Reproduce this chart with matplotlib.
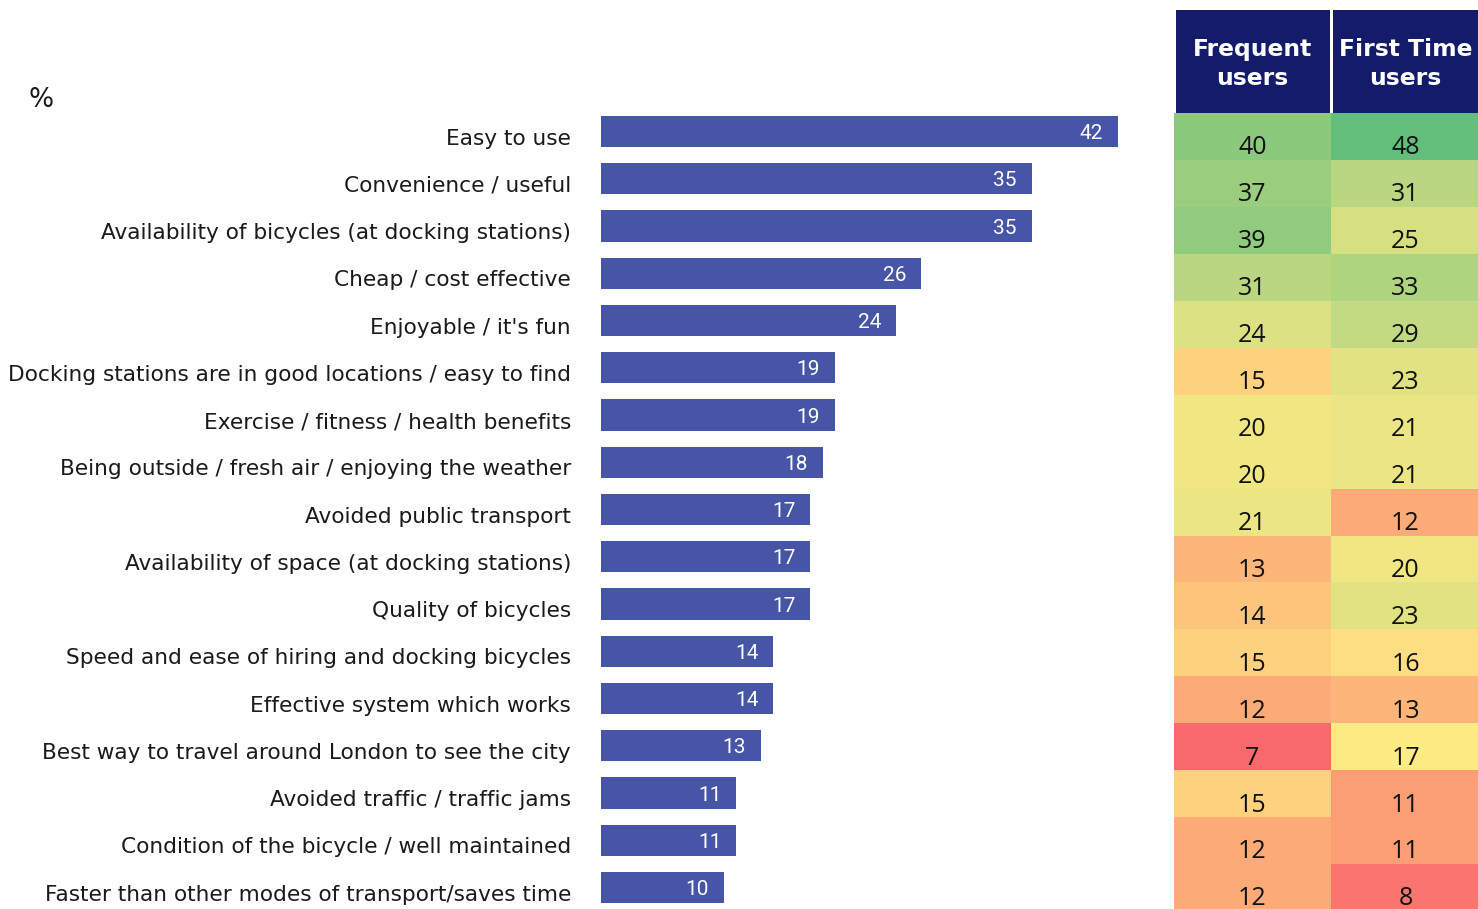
import matplotlib
matplotlib.use("Agg")
import matplotlib.pyplot as plt
import numpy as np
from matplotlib.colors import LinearSegmentedColormap, TwoSlopeNorm
from matplotlib.patches import Rectangle
import matplotlib.transforms as mtransforms

# Reasons for using the scheme, % of all users
reasons = [
    "Easy to use",
    "Convenience / useful",
    "Availability of bicycles (at docking stations)",
    "Cheap / cost effective",
    "Enjoyable / it's fun",
    "Docking stations are in good locations / easy to find",
    "Exercise / fitness / health benefits",
    "Being outside / fresh air / enjoying the weather",
    "Avoided public transport",
    "Availability of space (at docking stations)",
    "Quality of bicycles",
    "Speed and ease of hiring and docking bicycles",
    "Effective system which works",
    "Best way to travel around London to see the city",
    "Avoided traffic / traffic jams",
    "Condition of the bicycle / well maintained",
    "Faster than other modes of transport/saves time",
]
all_users = [42, 35, 35, 26, 24, 19, 19, 18, 17, 17, 17, 14, 14, 13, 11, 11, 10]

# Table columns
table_headers = ["Frequent\nusers", "First Time\nusers"]
frequent = [40, 37, 39, 31, 24, 15, 20, 20, 21, 13, 14, 15, 12, 7, 15, 12, 12]
first_time = [48, 31, 25, 33, 29, 23, 21, 21, 12, 20, 23, 16, 13, 17, 11, 11, 8]

W, H = 1478, 909
BAR_COLOR = "#4655A5"
HEADER_COLOR = "#141B6B"

fig = plt.figure(figsize=(W / 100, H / 100), dpi=100)


def px_axes(x0, y0, x1, y1):
    """Axes from pixel box (top-left origin)."""
    return fig.add_axes([x0 / W, 1 - y1 / H, (x1 - x0) / W, (y1 - y0) / H])


# --- bar chart ---
n = len(reasons)
pitch = 47.25
top_c, bot_c = 131.5, 131.5 + pitch * (n - 1)
ax = px_axes(601, top_c - pitch / 2, 601 + 45 * 12.31, bot_c + pitch / 2)
y = np.arange(n)
ax.barh(y, all_users, height=0.66, color=BAR_COLOR)
ax.set_xlim(0, 45)
ax.set_ylim(n - 0.5, -0.5)
ax.axis("off")

lab_trans = mtransforms.offset_copy(ax.get_yaxis_transform(), fig=fig, x=-30, y=-7, units="dots")
for i, r in enumerate(reasons):
    ax.text(0, i, r, transform=lab_trans, ha="right", va="center",
            fontsize=15.6, color="#1a1a1a", family="DejaVu Sans")

val_trans = mtransforms.offset_copy(ax.transData, fig=fig, x=-15, y=-2, units="dots")
for i, v in enumerate(all_users):
    ax.text(v, i, str(v), transform=val_trans, ha="right", va="center",
            fontsize=15, color="white", family=["Roboto", "DejaVu Sans"])

fig.text(28 / W, 1 - 100 / H, "%", ha="left", va="center", fontsize=19, color="#1a1a1a")

# --- heat map table ---
cmap = LinearSegmentedColormap.from_list("ryg", ["#F8696B", "#FFEB84", "#63BE7B"])
values = np.array([frequent, first_time]).T
norm = TwoSlopeNorm(vmin=values.min(), vcenter=17, vmax=values.max())

tx0, tx1, tx2 = 1174, 1331, 1480
row_h = 46.95
hx = px_axes(tx0, 113, tx2, 113 + row_h * n)
col_edges = np.array([0, tx1 - tx0, tx2 - tx0])
hx.pcolormesh(col_edges, np.arange(n + 1), values, cmap=cmap, norm=norm)
hx.set_xlim(0, tx2 - tx0)
hx.set_ylim(n, 0)
hx.axis("off")
col_mid = (col_edges[:-1] + col_edges[1:]) / 2
for i in range(n):
    for j in range(2):
        hx.text(col_mid[j], i + 0.74, str(values[i, j]), ha="center", va="center",
                fontsize=18, color="#111111", family=["Open Sans", "DejaVu Sans"])

# header
head = px_axes(tx0, 10, tx2, 113)
head.set_xlim(0, tx2 - tx0)
head.set_ylim(0, 1)
head.axis("off")
for j, h in enumerate(table_headers):
    x0 = col_edges[j] + 2
    x1 = col_edges[j + 1] - (1 if j == 0 else -2)
    head.add_patch(Rectangle((x0, 0), x1 - x0, 1, color=HEADER_COLOR, lw=0))
    head.text(col_mid[j], 0.475, h, ha="center", va="center", fontsize=16.8,
              fontweight="bold", color="white", linespacing=1.35)

fig.savefig("out.png", dpi=100)
